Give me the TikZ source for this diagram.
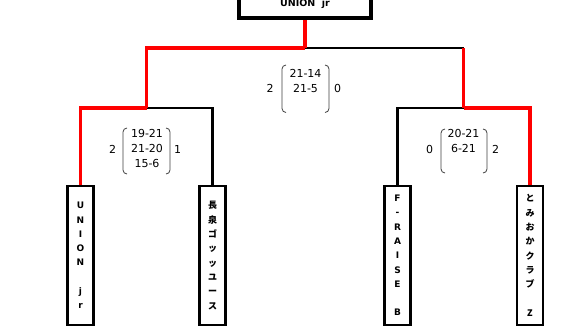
\documentclass[tikz,border=0pt]{standalone}
\usepackage{fontspec}
\setmainfont{DejaVu Sans}
\newfontfamily\jpfont{Noto Sans CJK JP}
\begin{document}
\begin{tikzpicture}[x=1pt,y=-1pt,
  team/.style={draw,line width=2.4pt,minimum width=26pt,minimum height=139pt,inner sep=0pt,align=center,font=\fontsize{9}{14.3}\selectfont\bfseries},
  jteam/.style={team,font=\jpfont\fontsize{9}{14.3}\selectfont\bfseries},
  champbox/.style={draw,line width=3.3pt,minimum width=132pt,minimum height=28pt,inner sep=0pt,font=\fontsize{9.5}{11}\selectfont\bfseries},
  blk/.style={draw=black,line width=2.2pt},
  win/.style={draw=red,line width=3.3pt},
  score/.style={align=center,inner sep=0pt,font=\fontsize{11}{15}\selectfont},
  side/.style={inner sep=0pt,font=\fontsize{11}{13}\selectfont},
  paren/.style={draw=black!75,line width=0.8pt,rounded corners=4pt}
]
\useasboundingbox[fill=white] (0,0) rectangle (580,326);

% teams
\node[team]  (t1) at (80.5,255.5) {U\\N\\I\\O\\N\\\mbox{}\\j\\r};
\node[jteam] (t2) at (212.5,255.5) {長\\泉\\ゴ\\ッ\\ッ\\ユ\\ー\\ス};
\node[team]  (t3) at (397.5,255.5) {F\\-\\R\\A\\I\\S\\E\\\mbox{}\\B};
\node[jteam] (t4) at (530,255.5) {と\\み\\お\\か\\ク\\ラ\\ブ\\\mbox{}\\Z};
\node[champbox] (champ) at (305,4) {UNION\ \ jr};

% junctions
\coordinate (semiL) at (146.5,108);
\coordinate (semiR) at (463.5,108);
\coordinate (finJ) at (305,48);
\coordinate (finR) at (463.5,48);

% black paths
\draw[blk] (t2.north) |- (semiL);
\draw[blk] (t3.north) |- (semiR);
\draw[blk] (finR) -- (finJ);
% red paths
\draw[win] (t1.north) |- (semiL);
\draw[win] (semiL) |- (finJ);
\draw[win] (finJ) -- (champ.south);
\draw[win] (t4.north) |- (semiR);
\draw[win] (semiR) -- (finR);

% scores: final
\node[score] (sF) at (305.5,80.5) {21-14\\21-5};
\node[side] (sFl) at (270,88) {2};
\node[side] (sFr) at (337.5,88) {0};
\draw[paren] (286,65) -- (282,65) -- (282,112.5) -- (286,112.5);
\draw[paren] (325,65) -- (329,65) -- (329,112.5) -- (325,112.5);

% scores: left semi
\node[score] (sL) at (147,148) {19-21\\21-20\\15-6};
\node[side] (sLl) at (112.5,149) {2};
\node[side] (sLr) at (177.5,149) {1};
\draw[paren] (127,128) -- (123,128) -- (123,174) -- (127,174);
\draw[paren] (166,128) -- (170,128) -- (170,174) -- (166,174);

% scores: right semi
\node[score] (sR) at (463.5,140.5) {20-21\\6-21};
\node[side] (sRl) at (429.5,149) {0};
\node[side] (sRr) at (495.5,149) {2};
\draw[paren] (445,129) -- (441,129) -- (441,173) -- (445,173);
\draw[paren] (483,129) -- (487,129) -- (487,173) -- (483,173);
\end{tikzpicture}
\end{document}
